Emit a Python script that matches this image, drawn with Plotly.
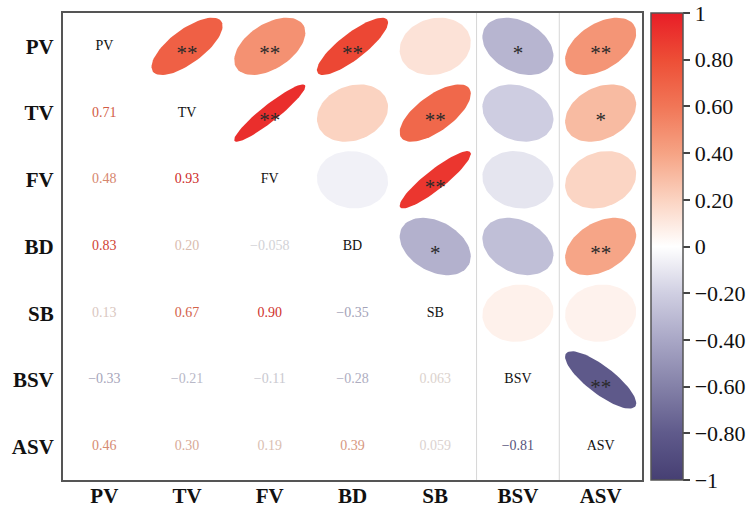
import numpy as np
import plotly.graph_objects as go
from plotly.colors import sample_colorscale, unlabel_rgb, label_rgb

# Variables in the correlation matrix
variables = ["PV", "TV", "FV", "BD", "SB", "BSV", "ASV"]

# Lower-triangle correlation coefficients, one list per row (columns PV..)
r_TV = [0.71]
r_FV = [0.48, 0.93]
r_BD = [0.83, 0.20, -0.058]
r_SB = [0.13, 0.67, 0.90, -0.35]
r_BSV = [-0.33, -0.21, -0.11, -0.28, 0.063]
r_ASV = [0.46, 0.30, 0.19, 0.39, 0.059, -0.81]
lower_rows = [[], r_TV, r_FV, r_BD, r_SB, r_BSV, r_ASV]

# Significance marks for the upper triangle, one list per row (columns right of the diagonal)
sig_PV = ["**", "**", "**", "", "*", "**"]
sig_TV = ["**", "", "**", "", "*"]
sig_FV = ["", "**", "", ""]
sig_BD = ["*", "", "**"]
sig_SB = ["", ""]
sig_BSV = ["**"]
sig_rows = [sig_PV, sig_TV, sig_FV, sig_BD, sig_SB, sig_BSV, []]

# Colour bar ticks
cbar_vals = [1, 0.8, 0.6, 0.4, 0.2, 0, -0.2, -0.4, -0.6, -0.8, -1]
cbar_text = ["1", "0.80", "0.60", "0.40", "0.20", "0", "\u22120.20", "\u22120.40",
             "\u22120.60", "\u22120.80", "\u22121"]

n = len(variables)
R = np.eye(n)
for i, row in enumerate(lower_rows):
    for j, v in enumerate(row):
        R[i, j] = v
        R[j, i] = v

colorscale = [
    [0.00, "#463f73"],
    [0.10, "#5f5a8b"],
    [0.20, "#8481a8"],
    [0.30, "#a9a7c6"],
    [0.40, "#d0cfe2"],
    [0.50, "#ffffff"],
    [0.60, "#fbd3c1"],
    [0.70, "#f6a384"],
    [0.80, "#f17657"],
    [0.90, "#ed4e36"],
    [1.00, "#e81d27"],
]


def value_color(v):
    return sample_colorscale(colorscale, [(v + 1) / 2])[0]


def text_color(v):
    # keep faint coefficients readable by blending toward grey
    c = np.array(unlabel_rgb(value_color(v)), dtype=float)
    grey = np.array([135.0, 135.0, 135.0])
    w = 0.3 * (1 - abs(v))
    mixed = (1 - w) * c + w * grey
    # a touch more depth for the mid-range values
    mixed = mixed * (1 - 0.12 * abs(v))
    return label_rgb(tuple(int(round(x)) for x in mixed))


def fmt(v):
    s = f"{v:.2f}" if abs(v) >= 0.1 else f"{v:.3f}"
    return s.replace("-", "\u2212")


fig = go.Figure()

serif = "Liberation Serif"
radius = 0.43
t = np.linspace(0, 2 * np.pi, 80)

# Ellipses in the upper triangle
for i in range(n):
    for j in range(i + 1, n):
        r = R[i, j]
        d = np.arccos(np.clip(r, -1, 1))
        ex = j + radius * np.cos(t + d / 2)
        ey = i - radius * np.cos(t - d / 2)
        fig.add_trace(go.Scatter(
            x=ex, y=ey, mode="lines", fill="toself",
            fillcolor=value_color(r), line=dict(width=0),
            hoverinfo="skip", showlegend=False,
        ))

# Significance marks (the serif asterisk sits high, so nudge it down)
sx, sy, st = [], [], []
for i, row in enumerate(sig_rows):
    for k, s in enumerate(row):
        if s:
            sx.append(i + 1 + k)
            sy.append(i + 0.13)
            st.append(s)
fig.add_trace(go.Scatter(
    x=sx, y=sy, text=st, mode="text",
    textfont=dict(family=serif, size=21, color="#2a2a2a"),
    hoverinfo="skip", showlegend=False,
))

# Coefficients in the lower triangle
lx, ly, lt, lc = [], [], [], []
for i, row in enumerate(lower_rows):
    for j, v in enumerate(row):
        lx.append(j)
        ly.append(i)
        lt.append(fmt(v))
        lc.append(text_color(v))
fig.add_trace(go.Scatter(
    x=lx, y=ly, text=lt, mode="text",
    textfont=dict(family=serif, size=14, color=lc),
    hoverinfo="skip", showlegend=False,
))

# Variable names on the diagonal
fig.add_trace(go.Scatter(
    x=list(range(n)), y=list(range(n)), text=variables, mode="text",
    textfont=dict(family=serif, size=14, color="#111111"),
    hoverinfo="skip", showlegend=False,
))

# Colour bar
fig.add_trace(go.Scatter(
    x=[0], y=[0], mode="markers",
    marker=dict(
        size=0, opacity=0, color=[0], cmin=-1, cmax=1, colorscale=colorscale,
        showscale=True,
        colorbar=dict(
            x=(651 - 63) / 579, xanchor="left", xpad=0,
            y=0.5, yanchor="middle", ypad=0,
            len=1, lenmode="fraction", thickness=32, thicknessmode="pixels",
            outlinecolor="#555555", outlinewidth=1.5,
            tickvals=cbar_vals, ticktext=cbar_text,
            ticks="outside", ticklen=7, tickcolor="#444444", tickwidth=1.5,
            tickfont=dict(family=serif, size=22, color="#111111"),
        ),
    ),
    hoverinfo="skip", showlegend=False,
))

# Light separators between the last columns
for xv in (4.5, 5.5):
    fig.add_shape(type="line", xref="x", yref="y", x0=xv, x1=xv, y0=-0.5, y1=n - 0.5,
                  line=dict(color="#d6d6d6", width=1), layer="below")

axis_common = dict(
    showgrid=False, zeroline=False, showline=True, mirror=True,
    linecolor="#555555", linewidth=2,
    tickvals=list(range(n)), ticktext=variables,
    tickfont=dict(family=serif, size=21, color="#111111", weight="bold"),
    ticks="",
)

fig.update_layout(
    width=752, height=511,
    margin=dict(l=63, r=110, t=13, b=31, autoexpand=False),
    paper_bgcolor="white", plot_bgcolor="white",
    xaxis=dict(range=[-0.5, n - 0.5], ticklabelstandoff=-4, **axis_common),
    yaxis=dict(range=[n - 0.5, -0.5], ticklabelstandoff=3, **axis_common),
)

fig.write_html("out.html")
